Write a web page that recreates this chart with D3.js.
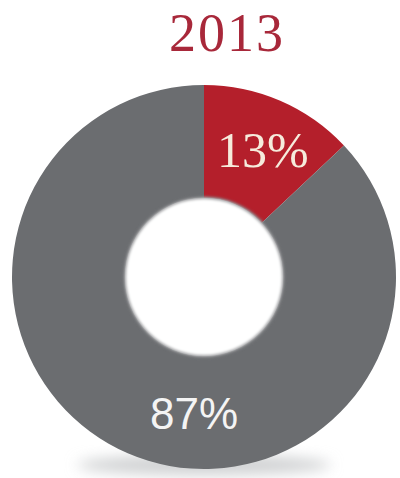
<!DOCTYPE html>
<html>
<head>
<meta charset="utf-8">
<script src="https://cdn.jsdelivr.net/npm/d3@7"></script>
<style>
  html, body { margin: 0; padding: 0; background: #ffffff; }
  svg { display: block; }
</style>
</head>
<body>
<svg id="chart" width="400" height="478"></svg>
<script>
// Share of the year, drawn as a donut
const title = "2013";
const categories = ["share", "rest"];
const values = [13, 87];
const labels = ["13%", "87%"];

const W = 400, H = 478;
const cx = 204, cy = 277;
const outerR = 192, innerR = 79;

const colors = d3.scaleOrdinal()
  .domain(categories)
  .range(["#b41f2b", "#6b6d70"]);
const labelColors = d3.scaleOrdinal()
  .domain(categories)
  .range(["#f6ebdc", "#f4f4f4"]);

const svg = d3.select("#chart");
const defs = svg.append("defs");

defs.append("filter").attr("id", "soft")
  .attr("x", "-20%").attr("y", "-50%").attr("width", "140%").attr("height", "200%")
  .append("feGaussianBlur").attr("stdDeviation", 7);
defs.append("filter").attr("id", "hole")
  .attr("x", "-20%").attr("y", "-20%").attr("width", "140%").attr("height", "140%")
  .append("feGaussianBlur").attr("stdDeviation", 1.8);

// Title
svg.append("text")
  .attr("x", 227)
  .attr("y", 51)
  .attr("text-anchor", "middle")
  .attr("font-family", "'Liberation Serif', 'DejaVu Serif', serif")
  .attr("font-size", 54)
  .attr("letter-spacing", 2)
  .attr("fill", "#a8283a")
  .text(title);

const g = svg.append("g").attr("transform", `translate(${cx},${cy})`);

// Soft shadow under the ring
g.append("ellipse")
  .attr("cx", 0).attr("cy", outerR - 4)
  .attr("rx", outerR * 0.66).attr("ry", 10)
  .attr("fill", "#cfd0d2")
  .attr("filter", "url(#soft)");

const pie = d3.pie().sort(null).value(d => d.value);
const arcs = pie(categories.map((c, i) => ({ cat: c, value: values[i], label: labels[i] })));

const arc = d3.arc().innerRadius(innerR).outerRadius(outerR);

g.selectAll("path.slice")
  .data(arcs)
  .join("path")
  .attr("class", "slice")
  .attr("d", arc)
  .attr("fill", d => colors(d.data.cat));

// Hole with a soft rim
g.append("circle")
  .attr("r", innerR + 1.5)
  .attr("fill", "#7f8083")
  .attr("filter", "url(#hole)");
g.append("circle")
  .attr("r", innerR - 0.5)
  .attr("fill", "#ffffff")
  .attr("filter", "url(#hole)");

// Value labels
const labelPos = [
  { angle: null, r: 140 },
  { angle: Math.PI + 0.073, r: 137 }
];
const fonts = ["'Liberation Serif', 'DejaVu Serif', serif", "'Liberation Sans', 'DejaVu Sans', sans-serif"];
const sizes = [50, 44];

g.selectAll("text.val")
  .data(arcs)
  .join("text")
  .attr("class", "val")
  .attr("text-anchor", "middle")
  .attr("dominant-baseline", "central")
  .attr("font-family", (d, i) => fonts[i])
  .attr("font-size", (d, i) => sizes[i])
  .attr("fill", d => labelColors(d.data.cat))
  .attr("transform", (d, i) => {
    const a = labelPos[i].angle == null ? (d.startAngle + d.endAngle) / 2 + 0.025 : labelPos[i].angle;
    const [x, y] = d3.pointRadial(a, labelPos[i].r);
    return `translate(${x},${y})`;
  })
  .text(d => d.data.label);
</script>
</body>
</html>
